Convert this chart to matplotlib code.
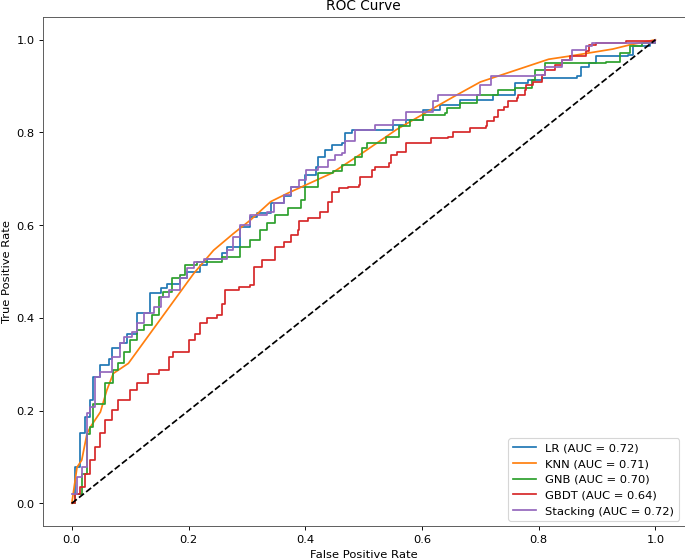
import matplotlib
matplotlib.use("Agg")
import matplotlib.pyplot as plt

# ---- data (FPR, TPR vertices) ----
lr_fpr = [0.0, 0.006, 0.014, 0.023, 0.031, 0.037, 0.048, 0.063, 0.069, 0.083, 0.094, 0.112,
          0.134, 0.152, 0.163, 0.186, 0.197, 0.22, 0.232, 0.257, 0.266, 0.289, 0.306, 0.317,
          0.341, 0.364, 0.375, 0.399, 0.419, 0.422, 0.433, 0.445, 0.463, 0.468, 0.48, 0.55,
          0.573, 0.602, 0.631, 0.666, 0.721, 0.759, 0.782, 0.805, 0.866, 0.872, 0.887, 0.898,
          0.953, 0.962, 0.991, 1.0]
lr_tpr = [0.0, 0.078, 0.151, 0.186, 0.222, 0.273, 0.298, 0.312, 0.334, 0.345, 0.366, 0.41,
          0.453, 0.464, 0.474, 0.485, 0.5, 0.514, 0.528, 0.539, 0.554, 0.597, 0.618, 0.626,
          0.647, 0.662, 0.683, 0.708, 0.726, 0.748, 0.762, 0.773, 0.777, 0.798, 0.806, 0.816,
          0.827, 0.849, 0.859, 0.87, 0.881, 0.906, 0.914, 0.917, 0.921, 0.942, 0.95, 0.964,
          0.968, 0.986, 0.993, 1.0]

knn_fpr = [0.0, 0.009, 0.017, 0.026, 0.032, 0.049, 0.06, 0.071, 0.097, 0.209, 0.243, 0.277,
           0.306, 0.341, 0.37, 0.445, 0.497, 0.556, 0.619, 0.654, 0.7, 0.817, 0.854, 0.927,
           0.956, 1.0]
knn_tpr = [0.0, 0.078, 0.093, 0.15, 0.165, 0.197, 0.244, 0.28, 0.302, 0.496, 0.546, 0.582,
           0.611, 0.651, 0.669, 0.712, 0.755, 0.806, 0.852, 0.877, 0.909, 0.958, 0.965, 0.98,
           0.989, 1.0]

gnb_fpr = [0.0, 0.006, 0.014, 0.017, 0.026, 0.032, 0.037, 0.049, 0.057, 0.071, 0.08, 0.089,
           0.1, 0.112, 0.123, 0.137, 0.149, 0.157, 0.172, 0.186, 0.194, 0.214, 0.257, 0.289,
           0.306, 0.323, 0.335, 0.349, 0.37, 0.393, 0.399, 0.422, 0.448, 0.463, 0.486, 0.497,
           0.506, 0.538, 0.561, 0.579, 0.602, 0.64, 0.643, 0.666, 0.695, 0.73, 0.759, 0.788,
           0.794, 0.811, 0.915, 0.939, 0.956, 0.977, 1.0]
gnb_tpr = [0.0, 0.021, 0.021, 0.064, 0.15, 0.165, 0.215, 0.215, 0.259, 0.287, 0.302, 0.327,
           0.352, 0.374, 0.384, 0.406, 0.446, 0.456, 0.485, 0.492, 0.514, 0.521, 0.532, 0.554,
           0.568, 0.59, 0.604, 0.622, 0.637, 0.654, 0.683, 0.712, 0.716, 0.73, 0.748, 0.766,
           0.777, 0.791, 0.813, 0.827, 0.838, 0.842, 0.853, 0.863, 0.881, 0.892, 0.895, 0.914,
           0.935, 0.95, 0.953, 0.971, 0.986, 0.993, 1.0]

gbdt_fpr = [0.0, 0.006, 0.014, 0.023, 0.031, 0.04, 0.049, 0.057, 0.069, 0.08, 0.1, 0.112,
            0.131, 0.149, 0.166, 0.174, 0.2, 0.211, 0.22, 0.232, 0.249, 0.257, 0.263, 0.286,
            0.306, 0.312, 0.326, 0.346, 0.349, 0.364, 0.375, 0.387, 0.39, 0.405, 0.422, 0.425,
            0.439, 0.445, 0.457, 0.474, 0.492, 0.494, 0.515, 0.52, 0.544, 0.547, 0.558, 0.573,
            0.611, 0.616, 0.645, 0.654, 0.683, 0.709, 0.712, 0.724, 0.73, 0.741, 0.747, 0.762,
            0.765, 0.776, 0.779, 0.791, 0.805, 0.811, 0.828, 0.84, 0.854, 0.881, 0.887, 0.898,
            0.95, 1.0]
gbdt_tpr = [0.0, 0.021, 0.035, 0.064, 0.093, 0.122, 0.151, 0.179, 0.201, 0.222, 0.244, 0.259,
            0.28, 0.287, 0.316, 0.327, 0.352, 0.366, 0.388, 0.399, 0.406, 0.431, 0.46, 0.467,
            0.471, 0.51, 0.525, 0.525, 0.554, 0.564, 0.579, 0.59, 0.608, 0.615, 0.615, 0.629,
            0.651, 0.672, 0.68, 0.683, 0.687, 0.705, 0.719, 0.726, 0.734, 0.751, 0.758, 0.777,
            0.777, 0.788, 0.791, 0.802, 0.809, 0.813, 0.824, 0.834, 0.849, 0.856, 0.867, 0.874,
            0.881, 0.892, 0.903, 0.91, 0.924, 0.935, 0.946, 0.957, 0.964, 0.975, 0.989, 0.993,
            0.998, 1.0]

stk_fpr = [0.0, 0.009, 0.017, 0.026, 0.032, 0.04, 0.049, 0.069, 0.083, 0.089, 0.103, 0.112,
           0.123, 0.14, 0.152, 0.166, 0.186, 0.197, 0.209, 0.226, 0.266, 0.277, 0.289, 0.306,
           0.335, 0.346, 0.364, 0.375, 0.39, 0.402, 0.422, 0.439, 0.451, 0.463, 0.468, 0.486,
           0.52, 0.55, 0.573, 0.619, 0.628, 0.677, 0.7, 0.718, 0.793, 0.811, 0.84, 0.857,
           0.881, 0.892, 1.0]
stk_tpr = [0.021, 0.057, 0.078, 0.194, 0.208, 0.273, 0.284, 0.316, 0.345, 0.359, 0.37, 0.388,
           0.41, 0.424, 0.446, 0.46, 0.485, 0.507, 0.521, 0.528, 0.546, 0.575, 0.6, 0.622,
           0.629, 0.647, 0.665, 0.683, 0.698, 0.719, 0.726, 0.741, 0.752, 0.755, 0.781, 0.806,
           0.816, 0.827, 0.845, 0.867, 0.881, 0.881, 0.903, 0.921, 0.924, 0.942, 0.957, 0.978,
           0.986, 0.993, 1.0]

labels = ["LR (AUC = 0.72)", "KNN (AUC = 0.71)", "GNB (AUC = 0.70)",
          "GBDT (AUC = 0.64)", "Stacking (AUC = 0.72)"]

DPI = 82.8
W, H = 685, 560
fig = plt.figure(figsize=((W + 0.4) / DPI, (H + 0.4) / DPI), dpi=DPI)
ax = fig.add_axes([42.6 / W, (H - 526.5) / H, (684.2 - 42.6) / W, (526.5 - 17) / H])

ax.plot(lr_fpr, lr_tpr, color="#1f77b4", drawstyle="steps-post", label=labels[0])
ax.plot(knn_fpr, knn_tpr, color="#ff7f0e", label=labels[1])
ax.plot(gnb_fpr, gnb_tpr, color="#2ca02c", drawstyle="steps-post", label=labels[2])
ax.plot(gbdt_fpr, gbdt_tpr, color="#d62728", drawstyle="steps-post", label=labels[3])
ax.plot(stk_fpr, stk_tpr, color="#9467bd", drawstyle="steps-post", label=labels[4])
ax.plot([0, 1], [0, 1], "k--")

ax.set_xlim(-0.05, 1.05)
ax.set_ylim(-0.05, 1.05)
ax.set_xlabel("False Positive Rate")
ax.set_ylabel("True Positive Rate")
ax.set_title("ROC Curve")
ax.legend(loc="lower right")
for s in ax.spines.values():
    s.set_color("#555555")

fig.savefig("out.png", dpi=DPI)
